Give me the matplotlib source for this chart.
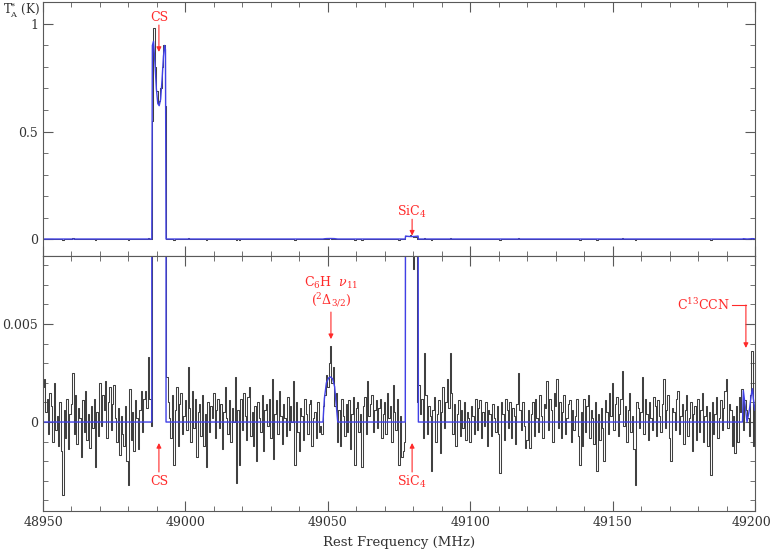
import numpy as np
import matplotlib
matplotlib.use("Agg")
import matplotlib.pyplot as plt
from matplotlib.ticker import MultipleLocator
from matplotlib.transforms import ScaledTranslation

# observed spectrum: noise in units of 1e-4 K, 0.5 MHz channels from 48950 MHz
noise = [
    18, 22, 5, 12, -6, 15, 8, -10, 20, -4, 3, -12, 10, -15, -37, 6, -8, 12, -14, 4,
    9, 25, -6, 14, -11, 7, 2, -18, 11, -5, 16, -9, 4, -13, 8, -3, 12, -23, 5, -7,
    20, -2, 14, 6, 21, -8, 10, 18, -4, 9, 19, 2, -10, 7, -17, 3, -6, -12, 8, -20,
    -32, 17, -9, 5, -15, 11, 2, -14, 6, 16, -5, 12, 16, 7, 33, 12, -2, 0, 0, 0,
    0, 0, 0, 0, 0, 0, 0, 23, 10, 2, -8, 14, -22, 6, 18, -12, 9, 15, -6, 3,
    11, -4, 28, 7, -10, 16, -3, 12, -18, 5, 9, -7, 14, -12, 4, -23, 10, -5, 8, 2,
    15, -8, 6, 12, -3, 9, -14, 5, 18, 2, -6, 11, -10, 7, 0, 23, -31, 6, -22, 12,
    -4, 15, 3, -9, 13, 18, -7, 5, -12, 8, -20, 10, 2, -5, 14, -15, 6, 9, -2, 12,
    -8, 22, -19, 4, 11, -6, 16, 3, -11, 9, 2, -7, 13, -4, 8, 0, 21, -22, 10, -5,
    -15, 7, 3, -9, 12, 4, -6, 9, 11, -12, 2, 5, -8, 10, -5, -2, -6, 8, 14, 24,
    18, 30, 39, 20, 28, 8, 15, -10, 6, -12, 12, 3, -7, 9, -5, 11, -14, 4, 13, -22,
    7, 10, -5, 4, -23, 8, 13, -6, 21, 3, 9, 14, -5, 6, 11, -3, 7, 12, -8, 4,
    10, -6, 15, 2, 8, -10, 19, 5, -4, 12, -22, 3, -18, -15, -10, 0, 0, 0, 0, 0,
    0, 0, 0, 10, 19, 4, 12, -8, 35, 14, -6, 8, 3, -25, 6, 13, -10, 4, 11, -16,
    5, 18, -3, 10, 22, 7, 35, 15, -6, 9, -12, 4, 11, -7, 6, -3, 10, -9, 5, 2,
    -10, 8, 3, -6, 12, -4, 7, 11, -8, 5, -2, 10, -12, 6, 4, -7, 9, 2, -5, 8,
    -6, -26, 10, 4, -9, 12, 6, -3, 10, -8, 7, 3, -11, 9, 25, 6, -4, 10, -2, -13,
    -9, 6, -13, 4, 10, -7, 12, 2, -5, 14, 3, -8, 9, 7, 21, -4, 12, 6, -10, 15,
    8, 22, -3, 10, -8, 5, 14, -6, 2, 9, 11, -10, 6, -4, 3, 12, -7, -22, 5, -12,
    12, -5, 8, 14, -8, 6, 2, -11, 10, -25, 4, -9, 7, -3, -20, 11, 5, -6, 15, 3,
    20, -4, 9, 13, -7, 4, 12, 26, -2, 8, -10, 6, 15, -5, 3, -14, -32, 10, 7, -3,
    5, 23, -6, 12, 4, -9, 10, 2, -4, 13, 8, -7, 11, 3, -5, 9, 22, -3, 6, 14,
    -8, -20, 7, 5, -4, 12, 16, -6, 3, 9, -11, 6, 14, -7, 2, 10, -15, 4, 8, -9,
    12, -5, 6, 15, -10, 3, 8, -12, 5, -27, 10, -6, 4, 13, -8, 2, 11, -4, 7, 16,
    22, -3, 9, 6, -12, 3, -16, 8, -10, 13, 5, 17, -4, 11, 6, 2, -7, 14, 36, -12,
    8,
]

# strong lines in the observed spectrum (K)
cs_freq = [48988.5, 48989, 48989.5, 48990, 48990.5, 48991, 48991.5, 48992, 48992.5, 48993]
cs_obs = [0.55, 0.98, 0.80, 0.69, 0.63, 0.64, 0.70, 0.80, 0.90, 0.62]
sic4_freq = [49077.5, 49078, 49078.5, 49079, 49079.5, 49080, 49080.5, 49081]
sic4_obs = [0.013, 0.016, 0.015, 0.017, 0.014, 0.0078, 0.012, 0.010]

# fitted model (K)
model_freq = [48950, 48988.2, 48988.4, 48988.8, 48989.3, 48989.8, 48990.3, 48990.8,
              48991.3, 48991.8, 48992.3, 48992.7, 48993.0, 48993.2,
              49048.3, 49048.8, 49049.5, 49050.3, 49051.0, 49051.7, 49052.4, 49053.0, 49053.5,
              49077.2, 49077.3, 49077.8, 49078.5, 49079.5, 49080.5, 49081.2, 49081.7, 49081.8,
              49195.6, 49195.9, 49196.4, 49197.2, 49198.0, 49198.7, 49199.1, 49199.4, 49200]
model_val = [0, 0, 0.90, 0.92, 0.82, 0.70, 0.63, 0.62, 0.65, 0.74, 0.85, 0.90, 0.88, 0,
             0, 0.0012, 0.0020, 0.00225, 0.0023, 0.0022, 0.0018, 0.0008, 0,
             0, 0.014, 0.013, 0.012, 0.0115, 0.012, 0.013, 0.014, 0,
             0, 0.0016, 0.0010, 0, 0.0006, 0.0014, 0.0017, 0.0012, 0.0006]

freq = 48950 + 0.5 * np.arange(len(noise))
obs = np.array(noise) * 1e-4
for f, v in zip(cs_freq + sic4_freq, cs_obs + sic4_obs):
    obs[np.argmin(np.abs(freq - f))] = v

plt.rcParams['font.family'] = ['DejaVu Serif']
plt.rcParams['mathtext.fontset'] = 'dejavuserif'

fig = plt.figure(figsize=(7.72, 5.5), dpi=100)
ax1 = fig.add_axes([0.0557, 0.5345, 0.9223, 0.4618])
ax2 = fig.add_axes([0.0557, 0.0709, 0.9223, 0.4636])

red = '#ff2a2a'
blue = (0.25, 0.25, 0.9)
arrow = dict(arrowstyle='-|>', color=red, lw=0.8, mutation_scale=7, shrinkA=0, shrinkB=0)

for ax in (ax1, ax2):
    ax.plot(freq, obs, drawstyle='steps-mid', color='0.25', lw=0.75)
    ax.plot(model_freq, model_val, color=blue, lw=1.0)
    ax.set_xlim(48950, 49200)
    ax.xaxis.set_major_locator(MultipleLocator(50))
    ax.xaxis.set_minor_locator(MultipleLocator(10))
    ax.tick_params(which='both', direction='in', top=True, right=True,
                   color='0.35', labelsize=9, labelcolor='0.2')
    ax.tick_params(which='major', length=7)
    ax.tick_params(which='minor', length=3.5)
    for s in ax.spines.values():
        s.set_color('0.35')

ax1.set_ylim(-0.079, 1.102)
ax1.yaxis.set_minor_locator(MultipleLocator(0.1))
ax1.set_yticks([0, 0.5, 1])
ax1.set_yticklabels(['0', '0.5', '1'])
ax1.tick_params(labelbottom=False)

ax2.set_ylim(-0.00454, 0.00847)
ax2.yaxis.set_minor_locator(MultipleLocator(0.001))
ax2.set_yticks([0, 0.005])
ax2.set_yticklabels(['0', '0.005'])
ax2.set_xticks([48950, 49000, 49050, 49100, 49150, 49200])
ax2.set_xticklabels(['48950', '49000', '49050', '49100', '49150', '49200'])
# keep the last label inside the figure
last = ax2.get_xticklabels()[-1]
last.set_transform(last.get_transform() + ScaledTranslation(-4 / 100, 0, fig.dpi_scale_trans))
ax2.set_xlabel('Rest Frequency (MHz)', fontsize=9.5, color='0.2', labelpad=5)

fig.text(0.004, 0.999, r'T$_\mathrm{A}^{*}$ (K)', fontsize=8.5, color='0.2', va='top')

# labels, top panel
ax1.annotate('', xy=(48990.7, 0.87), xytext=(48990.7, 0.995), arrowprops=arrow)
ax1.text(48990.7, 1.03, 'CS', color=red, fontsize=9, ha='center', va='center')
ax1.annotate('', xy=(49079.6, 0.016), xytext=(49079.6, 0.092), arrowprops=arrow)
ax1.text(49079.6, 0.126, r'SiC$_4$', color=red, fontsize=9, ha='center', va='center')

# labels, bottom panel
ax2.text(49051.1, 0.0071, r'C$_6$H  $\nu_{11}$', color=red, fontsize=9, ha='center', va='center')
ax2.text(49051.1, 0.0062, r'($^2\Delta_{3/2}$)', color=red, fontsize=9, ha='center', va='center')
ax2.annotate('', xy=(49051.1, 0.00423), xytext=(49051.1, 0.00561), arrowprops=arrow)
ax2.text(49181.7, 0.00597, r'C$^{13}$CCN', color=red, fontsize=9, ha='center', va='center')
ax2.plot([49191.9, 49196.8], [0.00597, 0.00597], color=red, lw=0.8)
ax2.annotate('', xy=(49196.8, 0.00378), xytext=(49196.8, 0.00597), arrowprops=arrow)
for x0, name in [(48990.7, 'CS'), (49079.6, r'SiC$_4$')]:
    ax2.annotate('', xy=(x0, -0.00107), xytext=(x0, -0.00255), arrowprops=arrow)
    ax2.text(x0, -0.00306, name, color=red, fontsize=9, ha='center', va='center')

fig.savefig('out.png', dpi=100)
